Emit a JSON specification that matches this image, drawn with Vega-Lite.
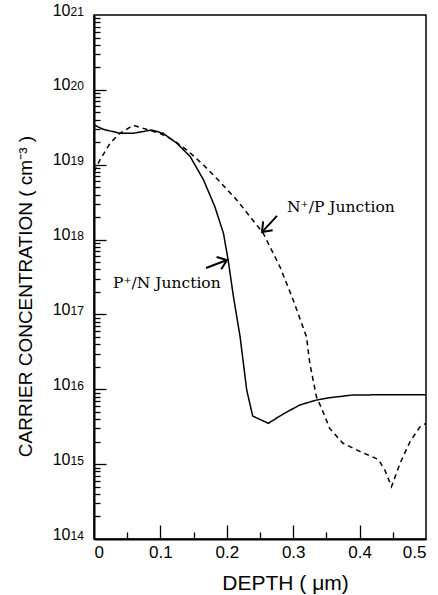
{
  "$schema": "https://vega.github.io/schema/vega-lite/v6.json",
  "width": 332,
  "height": 524,
  "autosize": {"type": "none"},
  "padding": {"left": 94, "top": 15, "right": 12, "bottom": 56},
  "background": "white",
  "config": {
    "view": {"stroke": "black", "strokeWidth": 1.5},
    "axis": {"domainColor": "black", "domainWidth": 2, "tickColor": "black", "tickWidth": 1.3, "labelColor": "black", "titleColor": "black", "labelFont": "Liberation Sans", "titleFont": "Liberation Sans", "grid": false, "titleFontWeight": "normal"}
  },
  "datasets": {
    "curves": [
      {"series": "P", "depth": 0.0, "conc": 3.40e19},
      {"series": "P", "depth": 0.014, "conc": 2.97e19},
      {"series": "P", "depth": 0.039, "conc": 2.63e19},
      {"series": "P", "depth": 0.059, "conc": 2.63e19},
      {"series": "P", "depth": 0.087, "conc": 2.91e19},
      {"series": "P", "depth": 0.104, "conc": 2.63e19},
      {"series": "P", "depth": 0.125, "conc": 1.93e19},
      {"series": "P", "depth": 0.145, "conc": 1.28e19},
      {"series": "P", "depth": 0.165, "conc": 6.25e18},
      {"series": "P", "depth": 0.182, "conc": 2.75e18},
      {"series": "P", "depth": 0.195, "conc": 1.21e18},
      {"series": "P", "depth": 0.202, "conc": 5.34e17},
      {"series": "P", "depth": 0.210, "conc": 1.73e17},
      {"series": "P", "depth": 0.220, "conc": 5.04e16},
      {"series": "P", "depth": 0.225, "conc": 2.22e16},
      {"series": "P", "depth": 0.230, "conc": 9.78e15},
      {"series": "P", "depth": 0.239, "conc": 4.39e15},
      {"series": "P", "depth": 0.2625, "conc": 3.51e15},
      {"series": "P", "depth": 0.285, "conc": 4.68e15},
      {"series": "P", "depth": 0.310, "conc": 6.17e15},
      {"series": "P", "depth": 0.335, "conc": 7.19e15},
      {"series": "P", "depth": 0.355, "conc": 7.72e15},
      {"series": "P", "depth": 0.390, "conc": 8.39e15},
      {"series": "P", "depth": 0.441, "conc": 8.45e15},
      {"series": "P", "depth": 0.5, "conc": 8.45e15},
      {"series": "N", "depth": 0.0, "conc": 8.07e18},
      {"series": "N", "depth": 0.009, "conc": 1.16e19},
      {"series": "N", "depth": 0.024, "conc": 1.93e19},
      {"series": "N", "depth": 0.039, "conc": 2.63e19},
      {"series": "N", "depth": 0.059, "conc": 3.36e19},
      {"series": "N", "depth": 0.079, "conc": 2.97e19},
      {"series": "N", "depth": 0.099, "conc": 2.63e19},
      {"series": "N", "depth": 0.119, "conc": 2.14e19},
      {"series": "N", "depth": 0.140, "conc": 1.57e19},
      {"series": "N", "depth": 0.165, "conc": 9.91e18},
      {"series": "N", "depth": 0.187, "conc": 6.25e18},
      {"series": "N", "depth": 0.215, "conc": 3.38e18},
      {"series": "N", "depth": 0.255, "conc": 1.21e18},
      {"series": "N", "depth": 0.280, "conc": 4.34e17},
      {"series": "N", "depth": 0.300, "conc": 1.56e17},
      {"series": "N", "depth": 0.320, "conc": 5.04e16},
      {"series": "N", "depth": 0.325, "conc": 2.22e16},
      {"series": "N", "depth": 0.335, "conc": 7.96e15},
      {"series": "N", "depth": 0.343, "conc": 5.5e15},
      {"series": "N", "depth": 0.355, "conc": 3.0e15},
      {"series": "N", "depth": 0.375, "conc": 1.90e15},
      {"series": "N", "depth": 0.401, "conc": 1.47e15},
      {"series": "N", "depth": 0.428, "conc": 1.16e15},
      {"series": "N", "depth": 0.438, "conc": 8.36e14},
      {"series": "N", "depth": 0.448, "conc": 5.0e14},
      {"series": "N", "depth": 0.461, "conc": 1.03e15},
      {"series": "N", "depth": 0.476, "conc": 2.0e15},
      {"series": "N", "depth": 0.491, "conc": 3.16e15},
      {"series": "N", "depth": 0.5, "conc": 3.51e15}
    ],
    "labels": [
      {"label": "N⁺/P Junction", "depth": 0.2907, "conc": 2.33e18},
      {"label": "P⁺/N Junction", "depth": 0.0286, "conc": 2.25e17}
    ],
    "arrows": [
      {"name": "N", "depth": 0.2756, "conc": 2.07e18, "depth2": 0.253, "conc2": 1.26e18},
      {"name": "P", "depth": 0.1687, "conc": 4.17e17, "depth2": 0.2003, "conc2": 5.33e17}
    ]
  },
  "layer": [
    {
      "data": {"name": "curves"},
      "mark": {"type": "line", "color": "black", "strokeWidth": 1.5, "interpolate": "linear"},
      "encoding": {
        "x": {"field": "depth", "type": "quantitative",
          "scale": {"domain": [0, 0.5], "nice": false, "zero": false},
          "axis": {"orient": "bottom", "values": [0, 0.1, 0.2, 0.3, 0.4, 0.5], "ticks": false, "labelFontSize": 17, "labelPadding": 5,
            "labelExpr": "datum.value == 0 ? '0' : format(datum.value, '.1f')",
            "title": "DEPTH ( μm)", "titleFontSize": 21, "titleX": 191, "titleY": 50, "titleBaseline": "alphabetic", "titleAnchor": "middle"}},
        "y": {"field": "conc", "type": "quantitative",
          "scale": {"type": "log", "domain": [1e14, 1e21], "nice": false},
          "axis": {"orient": "left", "values": [1e14, 1e15, 1e16, 1e17, 1e18, 1e19, 1e20, 1e21], "ticks": false, "labelFontSize": 16, "labelPadding": 24, "labelAlign": "right", "labelBaseline": "alphabetic", "labelDy": 10,
            "labelExpr": "'10'",
            "title": "CARRIER CONCENTRATION ( cm⁻³ )", "titleFontSize": 19, "titleX": -59, "titleY": 281, "titleAnchor": "middle"}},
        "strokeDash": {"field": "series", "type": "nominal", "scale": {"domain": ["P", "N"], "range": [[1, 0], [5, 4]]}, "legend": null}
      }
    },
    {
      "data": {"name": "curves"},
      "mark": {"type": "line", "opacity": 0},
      "encoding": {
        "x": {"field": "depth", "type": "quantitative",
          "scale": {"domain": [0, 0.5], "nice": false, "zero": false},
          "axis": null},
        "y": {"field": "conc", "type": "quantitative",
          "scale": {"type": "log", "domain": [1e14, 1e21], "nice": false},
          "axis": {"orient": "left", "values": [1e14, 1e15, 1e16, 1e17, 1e18, 1e19, 1e20, 1e21], "ticks": false, "domain": false, "title": null, "labelFontSize": 12, "labelPadding": 24, "labelAlign": "left", "labelBaseline": "alphabetic", "labelDy": 4,
            "labelExpr": "'' + round(log(datum.value)/LN10)"}},
        "detail": {"field": "series", "type": "nominal"}
      }
    },
    {
      "data": {"name": "curves"},
      "mark": {"type": "line", "opacity": 0},
      "encoding": {
        "x": {"field": "depth", "type": "quantitative",
          "scale": {"domain": [0, 0.5], "nice": false, "zero": false},
          "axis": {"orient": "bottom", "values": [0.1, 0.2, 0.3, 0.4], "tickSize": -14, "labels": false, "domain": false, "title": null}},
        "y": {"field": "conc", "type": "quantitative",
          "scale": {"type": "log", "domain": [1e14, 1e21], "nice": false},
          "axis": {"orient": "left", "values": [1e15, 1e16, 1e17, 1e18, 1e19, 1e20], "tickSize": -12, "labels": false, "domain": false, "title": null}},
        "detail": {"field": "series", "type": "nominal"}
      }
    },
    {
      "data": {"name": "curves"},
      "mark": {"type": "line", "opacity": 0},
      "encoding": {
        "x": {"field": "depth", "type": "quantitative",
          "scale": {"domain": [0, 0.5], "nice": false, "zero": false},
          "axis": {"orient": "bottom", "values": [0.05, 0.15, 0.25, 0.35, 0.45], "tickSize": -7, "labels": false, "domain": false, "title": null}},
        "y": {"field": "conc", "type": "quantitative",
          "scale": {"type": "log", "domain": [1e14, 1e21], "nice": false},
          "axis": {"orient": "left", "tickSize": -6, "labels": false, "domain": false, "title": null,
            "values": [2e14,3e14,4e14,5e14,6e14,7e14,8e14,9e14,2e15,3e15,4e15,5e15,6e15,7e15,8e15,9e15,2e16,3e16,4e16,5e16,6e16,7e16,8e16,9e16,2e17,3e17,4e17,5e17,6e17,7e17,8e17,9e17,2e18,3e18,4e18,5e18,6e18,7e18,8e18,9e18,2e19,3e19,4e19,5e19,6e19,7e19,8e19,9e19,2e20,3e20,4e20,5e20,6e20,7e20,8e20,9e20]}},
        "detail": {"field": "series", "type": "nominal"}
      }
    },
    {
      "data": {"name": "labels"},
      "mark": {"type": "text", "font": "DejaVu Serif", "fontSize": 15.5, "align": "left", "baseline": "alphabetic", "color": "black"},
      "encoding": {
        "x": {"field": "depth", "type": "quantitative", "scale": {"domain": [0, 0.5], "nice": false, "zero": false}, "axis": null},
        "y": {"field": "conc", "type": "quantitative", "scale": {"type": "log", "domain": [1e14, 1e21], "nice": false}, "axis": null},
        "text": {"field": "label", "type": "nominal"}
      }
    },
    {
      "data": {"name": "arrows"},
      "mark": {"type": "rule", "color": "black", "strokeWidth": 2},
      "encoding": {
        "x": {"field": "depth", "type": "quantitative", "scale": {"domain": [0, 0.5], "nice": false, "zero": false}, "axis": null},
        "y": {"field": "conc", "type": "quantitative", "scale": {"type": "log", "domain": [1e14, 1e21], "nice": false}, "axis": null},
        "x2": {"field": "depth2"},
        "y2": {"field": "conc2"}
      }
    },
    {
      "data": {"name": "arrows"},
      "mark": {"type": "point", "shape": "M -1 -0.75 L 0 0 L -1 0.75", "filled": false, "stroke": "black", "strokeWidth": 2, "size": 300, "opacity": 1},
      "encoding": {
        "x": {"field": "depth2", "type": "quantitative", "scale": {"domain": [0, 0.5], "nice": false, "zero": false}, "axis": null},
        "y": {"field": "conc2", "type": "quantitative", "scale": {"type": "log", "domain": [1e14, 1e21], "nice": false}, "axis": null},
        "angle": {"field": "name", "type": "nominal", "scale": {"domain": ["N", "P"], "range": [133, 339]}, "legend": null}
      }
    }
  ],
  "resolve": {"axis": {"x": "independent", "y": "independent"}}
}
